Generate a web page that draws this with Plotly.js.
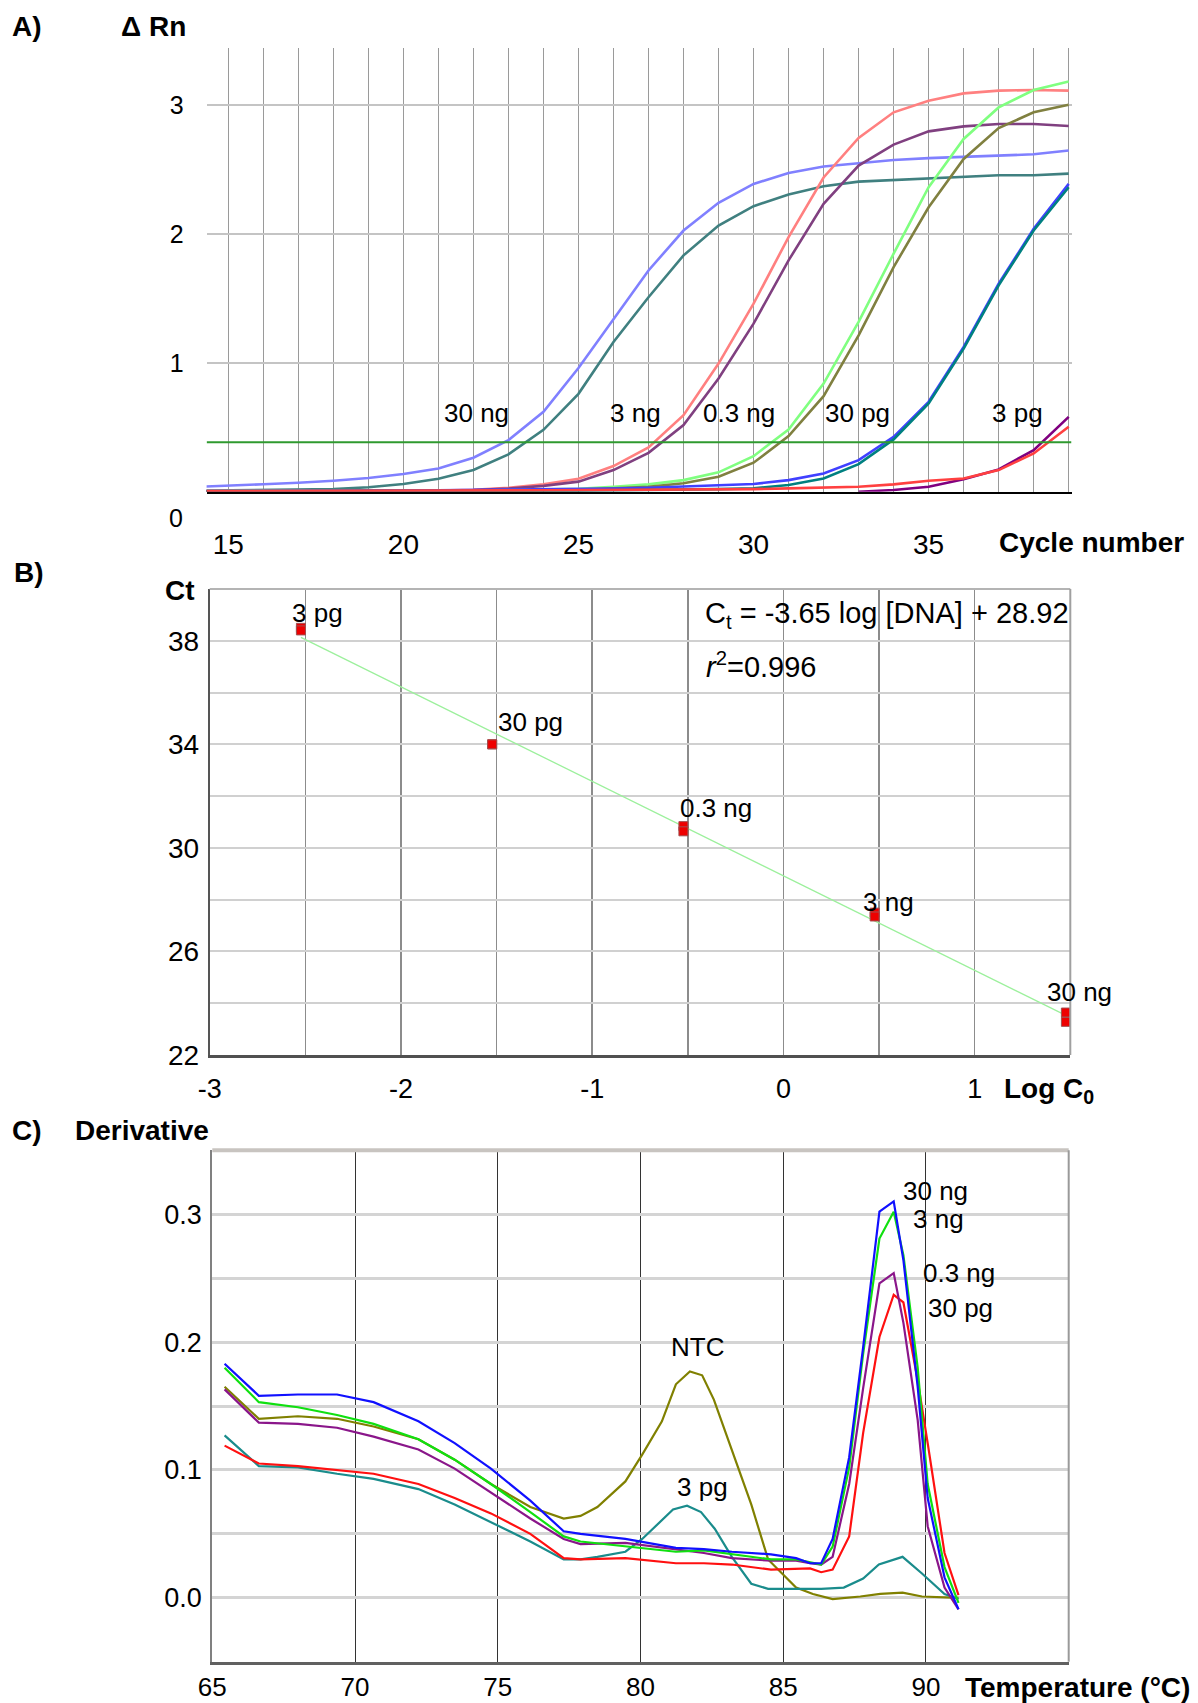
<!DOCTYPE html>
<html><head><meta charset="utf-8">
<script src="https://cdn.plot.ly/plotly-3.0.1.min.js"></script>
<style>html,body{margin:0;padding:0;background:#fff}#chart{width:1198px;height:1703px}</style>
</head><body><div id="chart"></div>
<script>
// ---------------- Panel A : amplification curves (ΔRn vs cycle) ----------------
const cycles = [14,15,16,17,18,19,20,21,22,23,24,25,26,27,28,29,30,31,32,33,34,35,36,37,38,39];
const cycleTickVals = [15,16,17,18,19,20,21,22,23,24,25,26,27,28,29,30,31,32,33,34,35,36,37,38,39];
const cycleTickText = ['15','','','','','20','','','','','25','','','','','30','','','','','35','','','',''];
const rnTickVals = [1,2,3];
const rnTickText = ['1','2','3'];
const threshold = 0.384;

const rn30ngA = [0.036,0.045,0.058,0.070,0.085,0.106,0.137,0.180,0.264,0.401,0.621,0.96,1.344,1.718,2.028,2.243,2.39,2.475,2.525,2.553,2.576,2.59,2.60,2.61,2.62,2.65];
const rn30ngB = [0.007,0.010,0.012,0.015,0.020,0.034,0.060,0.100,0.168,0.290,0.480,0.76,1.163,1.51,1.835,2.067,2.217,2.307,2.372,2.408,2.42,2.43,2.44,2.457,2.457,2.47];
const rn3ngA  = [0.004,0.004,0.004,0.005,0.005,0.005,0.006,0.008,0.015,0.030,0.058,0.10,0.199,0.344,0.594,0.995,1.46,1.977,2.44,2.747,2.946,3.036,3.093,3.114,3.119,3.114];
const rn3ngB  = [0.003,0.003,0.003,0.004,0.004,0.004,0.005,0.007,0.012,0.025,0.045,0.078,0.168,0.302,0.517,0.879,1.305,1.796,2.235,2.532,2.695,2.798,2.837,2.855,2.855,2.84];
const rn03ngA = [0.004,0.004,0.005,0.005,0.006,0.006,0.007,0.008,0.009,0.012,0.016,0.022,0.039,0.057,0.090,0.150,0.276,0.483,0.84,1.318,1.848,2.364,2.739,2.984,3.119,3.186];
const rn03ngB = [0.003,0.003,0.003,0.004,0.004,0.004,0.004,0.005,0.006,0.008,0.012,0.016,0.026,0.039,0.065,0.116,0.225,0.432,0.742,1.214,1.744,2.209,2.584,2.824,2.946,3.005];
const rn30pgA = [0.004,0.004,0.005,0.005,0.006,0.006,0.008,0.010,0.012,0.015,0.018,0.020,0.025,0.031,0.039,0.047,0.060,0.090,0.142,0.245,0.426,0.698,1.124,1.615,2.041,2.39];
const rn30pgB = [0.002,0.002,0.003,0.003,0.003,0.004,0.004,0.005,0.005,0.006,0.007,0.008,0.010,0.012,0.015,0.020,0.026,0.052,0.103,0.214,0.406,0.685,1.111,1.602,2.028,2.364];
const rn3pgA  = [null,null,null,null,null,null,null,null,null,null,null,null,null,null,null,null,null,null,null,0.0,0.013,0.039,0.096,0.173,0.323,0.581];
const rn3pgB  = [0.005,0.005,0.006,0.006,0.007,0.007,0.008,0.008,0.009,0.010,0.011,0.012,0.013,0.015,0.017,0.018,0.020,0.026,0.031,0.039,0.057,0.085,0.103,0.168,0.297,0.504];

// ---------------- Panel B : standard curve ----------------
const logConc  = [-2.523,-2.523,-1.523,-1.523,-0.523,-0.523,0.477,0.477,1.477,1.477];
const ctValues = [38.5,38.4,34.0,34.0,30.84,30.64,27.5,27.35,23.64,23.28];
const fitLog = [-2.523, 1.477];
const fitCt  = [38.13, 23.53];
const logTickVals = [-3,-2.5,-2,-1.5,-1,-0.5,0,0.5,1];
const logTickText = ['-3','','-2','','-1','','0','','1'];
const ctTickVals = [22,24,26,28,30,32,34,36,38,40];
const ctTickText = ['22','','26','','30','','34','','38',''];

// ---------------- Panel C : melting curves (derivative) ----------------
const tempMain = [65.43,66.63,68.00,69.37,70.65,72.22,73.49,74.76,76.14,77.31,77.90,79.47,81.24,82.22,83.20,84.57,85.45,85.94,86.33,86.73,87.31,87.80,88.37,88.87,89.21,89.71,90.06,90.65,91.14];
const d30ng  = [0.183,0.158,0.159,0.159,0.153,0.138,0.121,0.101,0.076,0.052,0.050,0.046,0.039,0.038,0.036,0.034,0.031,0.027,0.027,0.046,0.110,0.196,0.302,0.310,0.264,0.165,0.078,0.016,-0.009];
const d3ng   = [0.180,0.153,0.149,0.143,0.136,0.124,0.108,0.089,0.067,0.048,0.044,0.040,0.036,0.037,0.034,0.030,0.030,0.028,0.026,0.040,0.102,0.191,0.281,0.302,0.268,0.180,0.089,0.024,-0.004];
const d03ng  = [0.163,0.137,0.136,0.133,0.126,0.116,0.101,0.082,0.062,0.046,0.042,0.043,0.038,0.035,0.031,0.029,0.029,0.027,0.026,0.032,0.089,0.164,0.246,0.254,0.215,0.139,0.056,0.008,-0.009];
const d30pg  = [0.119,0.105,0.103,0.100,0.097,0.089,0.078,0.066,0.050,0.031,0.030,0.031,0.027,0.027,0.026,0.022,0.023,0.023,0.020,0.022,0.048,0.129,0.204,0.237,0.231,0.170,0.121,0.035,0.002];
const tempTeal = [65.43,66.63,68.00,69.37,70.65,72.22,73.49,74.76,76.14,77.31,77.90,78.49,79.47,80.06,80.65,81.14,81.63,82.12,82.60,83.20,83.88,84.47,85.45,86.33,87.12,87.80,88.35,89.18,89.86,90.65,91.14];
const d3pg   = [0.127,0.103,0.102,0.097,0.093,0.085,0.073,0.059,0.044,0.030,0.030,0.032,0.036,0.046,0.059,0.069,0.072,0.067,0.054,0.032,0.011,0.007,0.007,0.007,0.008,0.015,0.026,0.032,0.019,0.003,-0.001];
const tempNTC = [65.43,66.63,68.00,69.37,70.65,72.22,73.49,74.76,76.14,77.31,77.90,78.49,79.47,80.06,80.75,81.24,81.73,82.16,82.57,83.20,83.88,84.47,85.45,86.04,86.73,87.70,88.40,89.18,89.86,91.14];
const dNTC   = [0.165,0.140,0.142,0.140,0.134,0.124,0.108,0.089,0.071,0.062,0.064,0.071,0.091,0.112,0.138,0.167,0.177,0.174,0.155,0.116,0.073,0.030,0.008,0.003,-0.001,0.001,0.003,0.004,0.001,0.000];
const tempTickVals = [65,70,75,80,85,90];
const derivTickVals = [-0.05,0,0.05,0.1,0.15,0.2,0.25,0.3,0.35];
const derivTickText = ['','0.0','','0.1','','0.2','','0.3',''];

// ---------------- layout helpers ----------------
const W = 1198, H = 1703;
const FONT = 'Liberation Sans, Arial, Helvetica, sans-serif';
const px = v => v / W;
const py = v => 1 - v / H;
function ann(text, x, y, size, extra) {
  return Object.assign({text: text, xref: 'paper', yref: 'paper', x: px(x), y: py(y),
    xanchor: 'center', yanchor: 'middle', showarrow: false,
    font: {family: FONT, size: size, color: '#000'}}, extra || {});
}
const bold = s => '<b>' + s + '</b>';

function lineA(y, color) {
  return {x: cycles, y: y, type: 'scatter', mode: 'lines', xaxis: 'x', yaxis: 'y',
    line: {color: color, width: 2.6}, connectgaps: false, hoverinfo: 'skip'};
}
function lineC(x, y, color) {
  return {x: x, y: y, type: 'scatter', mode: 'lines', xaxis: 'x3', yaxis: 'y3',
    line: {color: color, width: 2.2}, hoverinfo: 'skip'};
}

const traces = [
  lineA(rn30ngA, '#8080ff'),
  lineA(rn30ngB, '#408080'),
  lineA(rn3ngA,  '#ff8080'),
  lineA(rn3ngB,  '#804080'),
  lineA(rn03ngA, '#80ff80'),
  lineA(rn03ngB, '#808040'),
  lineA(rn30pgA, '#4040ff'),
  lineA(rn30pgB, '#008080'),
  lineA(rn3pgA,  '#800080'),
  lineA(rn3pgB,  '#ff4040'),
  {x: fitLog, y: fitCt, type: 'scatter', mode: 'lines', xaxis: 'x2', yaxis: 'y2',
   line: {color: '#9cf09c', width: 1.3}, hoverinfo: 'skip'},
  {x: logConc, y: ctValues, type: 'scatter', mode: 'markers', xaxis: 'x2', yaxis: 'y2',
   marker: {symbol: 'square', size: 9, color: '#ee0000', line: {color: '#a05050', width: 1}}, hoverinfo: 'skip'},
  lineC(tempNTC, dNTC, '#808000'),
  lineC(tempTeal, d3pg, '#1a8c8c'),
  lineC(tempMain, d30pg, '#ff1010'),
  lineC(tempMain, d03ng, '#8a168a'),
  lineC(tempMain, d3ng, '#10e010'),
  lineC(tempMain, d30ng, '#1010ff')
];

const tickFont = s => ({family: FONT, size: s, color: '#000'});

const layout = {
  width: W, height: H, margin: {l: 0, r: 0, t: 0, b: 0},
  paper_bgcolor: '#fff', plot_bgcolor: '#fff', showlegend: false,
  // Panel A
  xaxis: {domain: [px(206.6), px(1071.5)], range: [14.38, 39.08], anchor: 'y',
    tickmode: 'array', tickvals: cycleTickVals, ticktext: cycleTickText,
    showgrid: true, gridcolor: '#9a9a9a', gridwidth: 1, zeroline: false,
    showline: true, linecolor: '#000', linewidth: 2, layer: 'below traces',
    ticks: '', tickfont: tickFont(28), ticklabelstandoff: 27},
  yaxis: {domain: [py(491.7), py(48.3)], range: [0, 3.443], anchor: 'x',
    tickmode: 'array', tickvals: rnTickVals, ticktext: rnTickText,
    showgrid: true, gridcolor: '#c4c4c4', gridwidth: 2, zeroline: false, showline: false,
    ticks: '', tickfont: tickFont(25), ticklabelstandoff: 22},
  // Panel B
  xaxis2: {domain: [px(209.7), px(1070.3)], range: [-3, 1.5], anchor: 'y2',
    tickmode: 'array', tickvals: logTickVals, ticktext: logTickText,
    showgrid: true, gridcolor: '#8c8c8c', gridwidth: 1.5, zeroline: false,
    showline: true, linecolor: '#505050', linewidth: 3, ticks: '',
    tickfont: tickFont(27), ticklabelstandoff: 8},
  yaxis2: {domain: [py(1055), py(589)], range: [22, 40], anchor: 'x2',
    tickmode: 'array', tickvals: ctTickVals, ticktext: ctTickText,
    showgrid: true, gridcolor: '#d0d0d0', gridwidth: 2, zeroline: false,
    showline: true, linecolor: '#555', linewidth: 2, ticks: '',
    tickfont: tickFont(28), ticklabelstandoff: 3},
  // Panel C
  xaxis3: {domain: [px(212.3), px(1068.7)], range: [65, 95], anchor: 'y3',
    tickmode: 'array', tickvals: tempTickVals,
    showgrid: true, gridcolor: '#333', gridwidth: 1, zeroline: false,
    showline: true, linecolor: '#606060', linewidth: 3, ticks: '',
    tickfont: tickFont(26), ticklabelstandoff: 0},
  yaxis3: {domain: [py(1661.7), py(1150.3)], range: [-0.05, 0.35], anchor: 'x3',
    tickmode: 'array', tickvals: derivTickVals, ticktext: derivTickText,
    showgrid: true, gridcolor: '#d4d4d4', gridwidth: 3, zeroline: false,
    showline: true, linecolor: '#808080', linewidth: 2, ticks: '',
    tickfont: tickFont(27), ticklabelstandoff: 3},
  shapes: [
    {type: 'line', xref: 'x', yref: 'y', x0: 14.38, x1: 39.08, y0: threshold, y1: threshold,
     line: {color: '#2f9a2f', width: 2.2}},
    {type: 'line', xref: 'x2 domain', yref: 'y2 domain', x0: 0, x1: 1, y0: 1, y1: 1, line: {color: '#b4b4b4', width: 2}},
    {type: 'line', xref: 'x2 domain', yref: 'y2 domain', x0: 1, x1: 1, y0: 0, y1: 1, line: {color: '#a0a0a0', width: 2}},
    {type: 'line', xref: 'x3 domain', yref: 'y3 domain', x0: 0, x1: 1, y0: 1, y1: 1, line: {color: '#c8c4c0', width: 4}},
    {type: 'line', xref: 'x3 domain', yref: 'y3 domain', x0: 1, x1: 1, y0: 0, y1: 1, line: {color: '#9a9a9a', width: 2}}
  ],
  annotations: [
    // Panel A
    ann(bold('A)'), 27, 27, 28),
    ann(bold('Δ Rn'), 153, 27, 28),
    ann('0', 176, 518, 25),
    ann(bold('Cycle number'), 1091, 543, 28),
    ann('30 ng', 476.5, 413, 26),
    ann('3 ng', 635, 413, 26),
    ann('0.3 ng', 739, 413, 26),
    ann('30 pg', 857.5, 413, 26),
    ann('3 pg', 1017, 413, 26),
    // Panel B
    ann(bold('B)'), 29, 572, 28),
    ann(bold('Ct'), 180, 590, 28),
    ann(bold('Log C<sub>0</sub>'), 1049, 1090, 28),
    ann('3 pg', 317.6, 613.3, 26),
    ann('30 pg', 530, 721.7, 26),
    ann('0.3 ng', 716, 808.3, 26),
    ann('3 ng', 888, 901.7, 26),
    ann('30 ng', 1079, 991.7, 26),
    ann('C<sub>t</sub> = -3.65 log [DNA] + 28.92', 703, 615, 29, {xanchor: 'left'}),
    ann('<i>r</i><sup>2</sup>=0.996', 703.7, 665, 29, {xanchor: 'left'}),
    // Panel C
    ann(bold('C)'), 27, 1130, 28),
    ann(bold('Derivative'), 142, 1130, 28),
    ann(bold('Temperature (°C)'), 1077, 1687, 28),
    ann('30 ng', 935.5, 1190.7, 26),
    ann('3 ng', 938, 1219.3, 26),
    ann('0.3 ng', 959, 1272.7, 26),
    ann('30 pg', 960, 1308.3, 26),
    ann('NTC', 697.6, 1346.7, 26),
    ann('3 pg', 702.5, 1486.7, 26)
  ]
};

Plotly.newPlot('chart', traces, layout, {staticPlot: true, displayModeBar: false});
</script>
</body></html>
